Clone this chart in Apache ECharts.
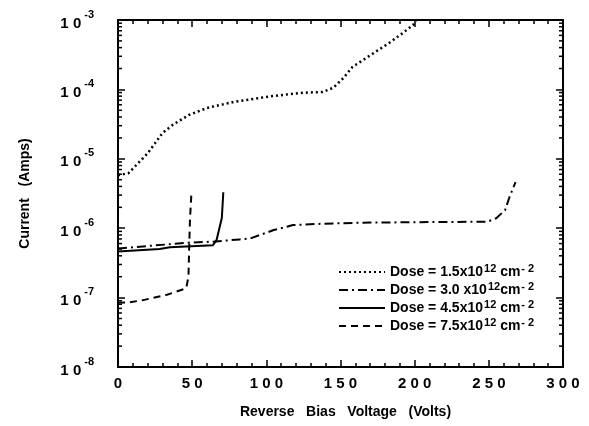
<!DOCTYPE html>
<html>
<head>
<meta charset="utf-8">
<script src="https://cdn.jsdelivr.net/npm/echarts@6/dist/echarts.min.js"></script>
<style>
html, body { margin: 0; padding: 0; background: #fff; }
#chart { width: 589px; height: 426px; }
</style>
</head>
<body>
<div id="chart"></div>
<script>
// values (volts, amps)
var v15 = [0, 7, 20, 30, 37, 48, 60, 78, 100, 123, 138, 145, 152, 158, 168, 183, 192, 199, 201];
var i15 = [5.8e-6, 6.2e-6, 1.2e-5, 2.35e-5, 3.1e-5, 4.3e-5, 5.4e-5, 6.6e-5, 7.8e-5, 8.9e-5, 9.2e-5, 1.05e-4, 1.46e-4, 2.1e-4, 2.9e-4, 4.7e-4, 6.5e-4, 8.5e-4, 1e-3];

var v30 = [0, 48, 64, 82, 89, 105, 118, 134, 162, 200, 249, 255, 261, 264, 268];
var i30 = [5.1e-7, 6.2e-7, 6.4e-7, 6.9e-7, 7.1e-7, 9.4e-7, 1.11e-6, 1.15e-6, 1.2e-6, 1.22e-6, 1.24e-6, 1.39e-6, 1.83e-6, 2.84e-6, 4.6e-6];

var v45 = [0, 28, 35, 64, 66.5, 70, 71];
var i45 = [4.6e-7, 5.0e-7, 5.3e-7, 5.7e-7, 6.8e-7, 1.4e-6, 3.3e-6];

var v75 = [0, 7, 17, 33, 46, 47.5, 48, 48.5, 49.5];
var i75 = [8.4e-8, 8.5e-8, 9.2e-8, 1.1e-7, 1.36e-7, 2.0e-7, 5.4e-7, 1.3e-6, 3.2e-6];

var doseNames = [
    'Dose = 1.5x10{s|12} cm{s|- 2}',
    'Dose = 3.0 x10{s|12}cm{s|- 2}',
    'Dose = 4.5x10{s|12} cm{s|- 2}',
    'Dose = 7.5x10{s|12} cm{s|- 2}'
];

function pairs(xs, ys) {
    return xs.map(function (x, k) { return [x, ys[k]]; });
}
function spaced(n) {
    return String(n).split('').join(' ');
}

var chart = echarts.init(document.getElementById('chart'));
var font = 'Liberation Sans, Arial, sans-serif';

function axisBase() {
    return {
        axisLine: { show: true, onZero: false, lineStyle: { color: '#000', width: 2 } },
        splitLine: { show: false },
        axisTick: { show: true, inside: true, length: 7, lineStyle: { color: '#000', width: 1.5 } }
    };
}

function mkSeries(name, data, type, width) {
    return {
        name: name,
        type: 'line',
        data: data,
        symbol: 'none',
        lineStyle: { color: '#000', width: width, type: type },
        itemStyle: { color: '#000' }
    };
}

chart.setOption({
    backgroundColor: '#fff',
    animation: false,
    textStyle: { fontFamily: font },
    grid: { left: 118, top: 20, right: 26, bottom: 59 },
    legend: {
        orient: 'vertical',
        left: 333,
        top: 258,
        itemGap: 0,
        itemWidth: 46,
        itemHeight: 14,
        itemStyle: { opacity: 0 },
        data: doseNames,
        textStyle: {
            fontFamily: font, fontSize: 14, fontWeight: 'bold', color: '#000', lineHeight: 18,
            rich: {
                s: { fontSize: 11, verticalAlign: 'top', lineHeight: 18, fontWeight: 'bold', padding: [0, 0, 0, 1] }
            }
        }
    },
    xAxis: [
        Object.assign(axisBase(), {
            type: 'value', min: 0, max: 300, interval: 50,
            name: 'Reverse   Bias   Voltage   (Volts)',
            nameLocation: 'middle', nameGap: 38,
            nameTextStyle: { fontSize: 14, fontWeight: 'bold', color: '#000', padding: [0, 0, 0, 10] },
            minorTick: { show: true, splitNumber: 5, length: 4, lineStyle: { color: '#000', width: 1.5 } },
            axisLabel: {
                margin: 9, fontSize: 15, fontWeight: 'bold', color: '#000',
                formatter: function (v) { return spaced(v); }
            }
        }),
        Object.assign(axisBase(), {
            type: 'value', min: 0, max: 300, interval: 50, position: 'top',
            minorTick: { show: true, splitNumber: 5, length: 4, lineStyle: { color: '#000', width: 1.5 } },
            axisLabel: { show: false }
        })
    ],
    yAxis: [
        Object.assign(axisBase(), {
            type: 'log', logBase: 10, min: 1e-8, max: 1e-3,
            name: 'Current   (Amps)',
            nameLocation: 'middle', nameGap: 86, nameRotate: 90,
            nameTextStyle: { fontSize: 14, fontWeight: 'bold', color: '#000' },
            axisLabel: {
                margin: 24, color: '#000',
                formatter: function (v) {
                    var e = Math.round(Math.log10(v));
                    return '{b|1 0}{s|-' + (-e) + '}';
                },
                rich: {
                    b: { fontSize: 15, fontWeight: 'bold', lineHeight: 22, verticalAlign: 'bottom' },
                    s: { fontSize: 11, fontWeight: 'bold', lineHeight: 22, verticalAlign: 'top', padding: [0, 0, 0, 3] }
                }
            }
        }),
        Object.assign(axisBase(), {
            type: 'log', logBase: 10, min: 1e-8, max: 1e-3, position: 'right',
            axisLabel: { show: false }
        })
    ],
    series: [
        mkSeries(doseNames[0], pairs(v15, i15), [2, 3], 2.5),
        mkSeries(doseNames[1], pairs(v30, i30), [9, 4, 2, 4], 2),
        mkSeries(doseNames[2], pairs(v45, i45), 'solid', 2),
        mkSeries(doseNames[3], pairs(v75, i75), [7, 5], 2)
    ]
});

// log minor ticks (2..9 in each decade), placed through the y scale
var minor = [];
var xl = chart.convertToPixel({ xAxisIndex: 0 }, 0);
var xr = chart.convertToPixel({ xAxisIndex: 0 }, 300);
for (var k = -8; k < -3; k++) {
    for (var m = 2; m < 10; m++) {
        var y = chart.convertToPixel({ yAxisIndex: 0 }, m * Math.pow(10, k));
        minor.push({ type: 'line', silent: true, shape: { x1: xl, y1: y, x2: xl + 4, y2: y }, style: { stroke: '#000', lineWidth: 1.5 } });
        minor.push({ type: 'line', silent: true, shape: { x1: xr, y1: y, x2: xr - 4, y2: y }, style: { stroke: '#000', lineWidth: 1.5 } });
    }
}
chart.setOption({ graphic: minor });
</script>
</body>
</html>
